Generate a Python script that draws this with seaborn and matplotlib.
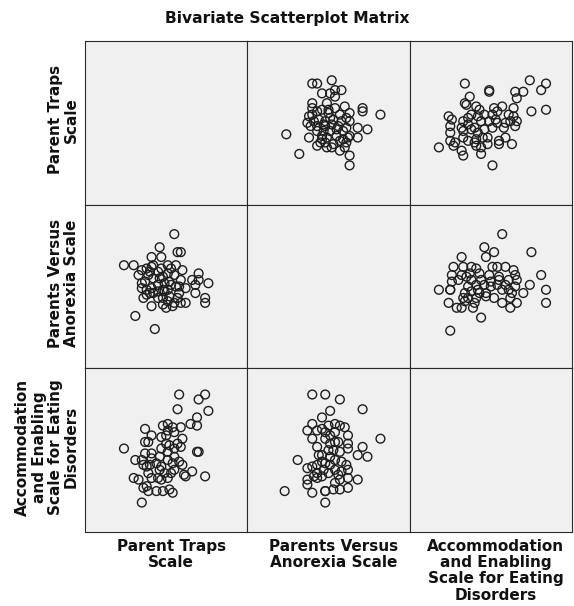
import matplotlib
matplotlib.use("Agg")
import matplotlib.pyplot as plt
import seaborn as sns
import pandas as pd

title = "Bivariate Scatterplot Matrix"
var_labels = [
    "Parent Traps\nScale",
    "Parents Versus\nAnorexia Scale",
    "Accommodation\nand Enabling\nScale for Eating\nDisorders",
]

# Parents Versus Anorexia (x) against Parent Traps (y)
pva_a = [40, 43, 52, 46, 51, 54, 58, 54, 40, 40,
         49, 54, 60, 71, 71, 82, 63, 38, 43, 46,
         50, 57, 61, 63, 37, 41, 44, 48, 53, 58,
         39, 43, 48, 52, 56, 61, 68, 74, 24, 43,
         47, 51, 55, 68, 38, 46, 49, 59, 62, 63,
         45, 48, 53, 57, 61, 43, 49, 52, 57, 60,
         32, 63, 63, 47, 51, 59, 40, 55, 46, 50]
traps_a = [74, 74, 76, 68, 68, 70, 70, 66, 62, 59,
           62, 59, 60, 59, 57, 55, 56, 54, 57, 58,
           56, 55, 53, 51, 50, 51, 52, 51, 52, 51,
           48, 48, 48, 49, 48, 47, 47, 46, 43, 45,
           45, 45, 46, 41, 41, 40, 41, 40, 41, 42,
           38, 38, 37, 39, 38, 36, 35, 35, 33, 35,
           31, 30, 24, 49, 53, 45, 55, 42, 42, 58]

# Accommodation and Enabling (x) against Parent Traps (y)
aese_b = [34, 49, 49, 37, 34, 35, 74, 84, 81, 65,
          70, 66, 75, 84, 41, 43, 52, 57, 64, 24,
          26, 33, 38, 42, 46, 51, 54, 61, 64, 66,
          25, 32, 36, 40, 44, 49, 54, 59, 62, 65,
          25, 33, 38, 42, 46, 51, 58, 25, 28, 33,
          36, 41, 45, 48, 27, 32, 33, 41, 44, 44,
          48, 55, 55, 59, 63, 18, 51, 40, 36, 53]
traps_b = [74, 70, 69, 66, 62, 61, 76, 74, 70, 69,
           69, 65, 57, 58, 60, 58, 59, 60, 59, 54,
           52, 51, 55, 54, 55, 55, 57, 55, 54, 51,
           48, 47, 49, 47, 51, 51, 50, 50, 51, 48,
           44, 45, 46, 44, 46, 47, 47, 39, 38, 41,
           39, 40, 41, 41, 36, 33, 30, 36, 35, 31,
           37, 39, 37, 41, 37, 35, 24, 38, 53, 52]

# Accommodation and Enabling (x) against Parents Versus Anorexia (y)
aese_c = [57, 46, 47, 52, 32, 75, 27, 33, 38, 41,
          51, 54, 59, 64, 81, 26, 32, 37, 43, 49,
          55, 65, 26, 38, 44, 50, 55, 61, 66, 74,
          18, 25, 36, 41, 46, 50, 57, 61, 65, 84,
          70, 34, 38, 43, 47, 33, 36, 41, 52, 57,
          62, 66, 24, 29, 32, 39, 62, 84, 44, 25,
          34, 40, 47, 54, 30, 63, 25, 35, 42, 59]
pva_c = [82, 74, 68, 71, 68, 71, 62, 62, 62, 61,
         62, 62, 62, 60, 57, 57, 57, 58, 58, 57,
         56, 57, 53, 54, 54, 53, 54, 54, 54, 51,
         48, 48, 50, 51, 51, 50, 48, 48, 50, 48,
         46, 46, 47, 46, 46, 43, 43, 43, 43, 40,
         43, 40, 40, 37, 37, 37, 37, 40, 31, 23,
         41, 40, 44, 51, 54, 46, 48, 56, 48, 51]

# (row variable, column variable) -> (y values, x values)
pairs = {
    (0, 1): (traps_a, pva_a),
    (0, 2): (traps_b, aese_b),
    (1, 2): (pva_c, aese_c),
}

plt.rcParams["font.family"] = ["DejaVu Sans"]

W, H = 574, 606
fig, axes = plt.subplots(3, 3, figsize=(W / 100, H / 100), dpi=100)
fig.patch.set_facecolor("white")
left_px, right_px, top_px, bottom_px = 85, 572, 41, 532
fig.subplots_adjust(left=left_px / W, right=right_px / W, top=1 - top_px / H,
                    bottom=1 - bottom_px / H, wspace=0, hspace=0)

for r in range(3):
    for c in range(3):
        ax = axes[r, c]
        ax.set_facecolor("#f0f0f0")
        if r != c:
            if r < c:
                yv, xv = pairs[(r, c)]
            else:
                xv, yv = pairs[(c, r)]
            df = pd.DataFrame({"x": xv, "y": yv})
            sns.scatterplot(data=df, x="x", y="y", ax=ax, s=40,
                            facecolor="none", edgecolor="#1e1e1e",
                            linewidth=1.0, legend=False)
        ax.set_xlim(0, 100)
        ax.set_ylim(0, 100)
        ax.set_xticks([])
        ax.set_yticks([])
        ax.set_xlabel("")
        ax.set_ylabel("")
        for sp in ax.spines.values():
            sp.set_color("#2a2a2a")
            sp.set_linewidth(0.8)

# variable names along the bottom and left edges
col_w = (right_px - left_px) / 3
row_h = (bottom_px - top_px) / 3
label_kw = dict(fontsize=11, fontweight="bold", linespacing=1.1,
                multialignment="center", color="#111111")
for i, lab in enumerate(var_labels):
    cx = left_px + col_w * (i + 0.5) + 5
    fig.text(cx / W, 1 - (bottom_px + 7) / H, lab, ha="center", va="top",
             **label_kw)
    cy = top_px + row_h * (i + 0.5) - 3
    fig.text(79 / W, 1 - cy / H, lab, ha="right", va="center",
             rotation=90, **label_kw)

fig.text(0.5, 1 - 11 / H, title, ha="center", va="top", fontsize=11.2,
         fontweight="bold", color="#111111")

fig.savefig("out.png", dpi=100, facecolor="white")
